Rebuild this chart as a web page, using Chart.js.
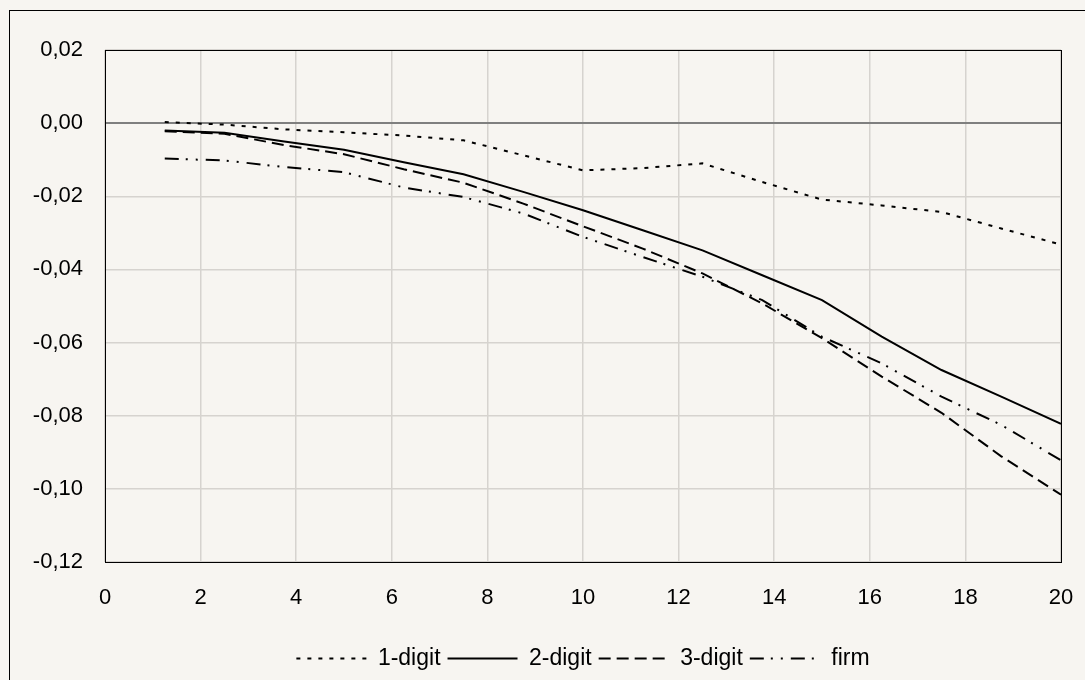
<!DOCTYPE html>
<html>
<head>
<meta charset="utf-8">
<script src="https://cdn.jsdelivr.net/npm/chart.js@4/dist/chart.umd.min.js"></script>
<style>
    html, body { margin: 0; padding: 0; background: #f7f5f1; overflow: hidden; width: 1085px; height: 680px; }
    #frame { position: absolute; left: 9px; top: 10px; width: 1100px; height: 700px; border: 1px solid #000; box-sizing: border-box; }
    #wrap { position: absolute; left: 0; top: 0; width: 1085px; height: 680px; }
</style>
</head>
<body>
<div id="frame"></div>
<div id="wrap"><canvas id="chart"></canvas></div>
<script>
    const years = [1.25, 2.5, 3.75, 5, 6.25, 7.5, 8.75, 10, 11.25, 12.5, 13.75, 15, 16.25, 17.5, 18.75, 20];
    const oneDigit = [0.0003, -0.0004, -0.0017, -0.0025, -0.0034, -0.0047, -0.0088, -0.0129, -0.0123, -0.0110, -0.0161, -0.0209, -0.0225, -0.0243, -0.0288, -0.0332];
    const twoDigit = [-0.0020, -0.0026, -0.0050, -0.0073, -0.0107, -0.0140, -0.0188, -0.0238, -0.0293, -0.0348, -0.0416, -0.0484, -0.0584, -0.0675, -0.0748, -0.0822];
    const threeDigit = [-0.0022, -0.0029, -0.0060, -0.0085, -0.0126, -0.0163, -0.0220, -0.0282, -0.0343, -0.0411, -0.0493, -0.0588, -0.0693, -0.0792, -0.0911, -0.1016];
    const firm = [-0.0097, -0.0102, -0.0120, -0.0134, -0.0176, -0.0202, -0.0247, -0.0311, -0.0366, -0.0420, -0.0484, -0.0584, -0.0657, -0.0748, -0.0825, -0.0922];
    const seriesNames = ["1-digit", "2-digit", "3-digit", "firm"];

    const toPoints = (values) => values.map((v, i) => ({ x: years[i], y: v }));

    const fmtComma = (v) => {
        if (Math.abs(v) < 1e-9) {
            return "0,00";
        }
        return v.toFixed(2).replace(".", ",");
    };

    const plotFrame = {
        id: "plotFrame",
        afterDraw(chart) {
            const { ctx, chartArea } = chart;
            ctx.save();
            ctx.strokeStyle = "#000";
            ctx.lineWidth = 1;
            ctx.setLineDash([]);
            ctx.strokeRect(chartArea.left + 0.5, chartArea.top + 0.5,
                chartArea.right - chartArea.left, chartArea.bottom - chartArea.top);
            ctx.restore();
        }
    };

    const baseLine = {
        borderColor: "#000000",
        backgroundColor: "#000000",
        borderWidth: 2,
        pointRadius: 0,
        pointHoverRadius: 0,
        tension: 0,
        fill: false
    };

    Chart.defaults.font.family = "'Liberation Sans', Arial, sans-serif";
    Chart.defaults.font.size = 22;
    Chart.defaults.color = "#000000";

    // legend samples keep the dataset's dash pattern
    const legendLabels = (chart) => {
        const items = Chart.defaults.plugins.legend.labels.generateLabels(chart);
        return items.map((item) => ({
            ...item,
            lineDash: chart.data.datasets[item.datasetIndex].borderDash || [],
            lineWidth: 2,
            strokeStyle: "#000000",
            fillStyle: "#000000"
        }));
    };

    new Chart(document.getElementById("chart"), {
        type: "line",
        data: {
            datasets: [
                { ...baseLine, label: seriesNames[0], data: toPoints(oneDigit), borderDash: [4, 7] },
                { ...baseLine, label: seriesNames[1], data: toPoints(twoDigit) },
                { ...baseLine, label: seriesNames[2], data: toPoints(threeDigit), borderDash: [12, 6] },
                { ...baseLine, label: seriesNames[3], data: toPoints(firm), borderDash: [14, 7, 2, 8, 2, 8] }
            ]
        },
        options: {
            responsive: true,
            maintainAspectRatio: false,
            animation: false,
            layout: {
                padding: { top: 50, right: 24, bottom: 0, left: 0 }
            },
            plugins: {
                legend: {
                    position: "bottom",
                    fullSize: false,
                    labels: {
                        usePointStyle: true,
                        pointStyle: "line",
                        pointStyleWidth: 70,
                        boxHeight: 22,
                        padding: 7,
                        color: "#000000",
                        font: { size: 23 },
                        generateLabels: legendLabels
                    }
                },
                tooltip: { enabled: false }
            },
            scales: {
                x: {
                    type: "linear",
                    min: 0,
                    max: 20,
                    afterFit: (scale) => {
                        scale.height = 78;
                        scale.paddingLeft = 0;
                        scale.paddingRight = 0;
                    },
                    border: { display: false },
                    grid: {
                        color: "#d6d3cf",
                        lineWidth: 1.5,
                        drawTicks: false
                    },
                    ticks: {
                        stepSize: 2,
                        padding: 23,
                        maxRotation: 0
                    }
                },
                y: {
                    min: -0.12,
                    max: 0.02,
                    afterFit: (scale) => { scale.width = 105; },
                    border: { display: false },
                    grid: {
                        color: (ctx) => (ctx.tick && Math.abs(ctx.tick.value) < 1e-9 ? "#7f7f7f" : "#d6d3cf"),
                        lineWidth: (ctx) => (ctx.tick && Math.abs(ctx.tick.value) < 1e-9 ? 2 : 1.5),
                        drawTicks: false
                    },
                    ticks: {
                        stepSize: 0.02,
                        padding: 22,
                        callback: (value) => fmtComma(value)
                    }
                }
            }
        },
        plugins: [plotFrame]
    });
</script>
</body>
</html>
